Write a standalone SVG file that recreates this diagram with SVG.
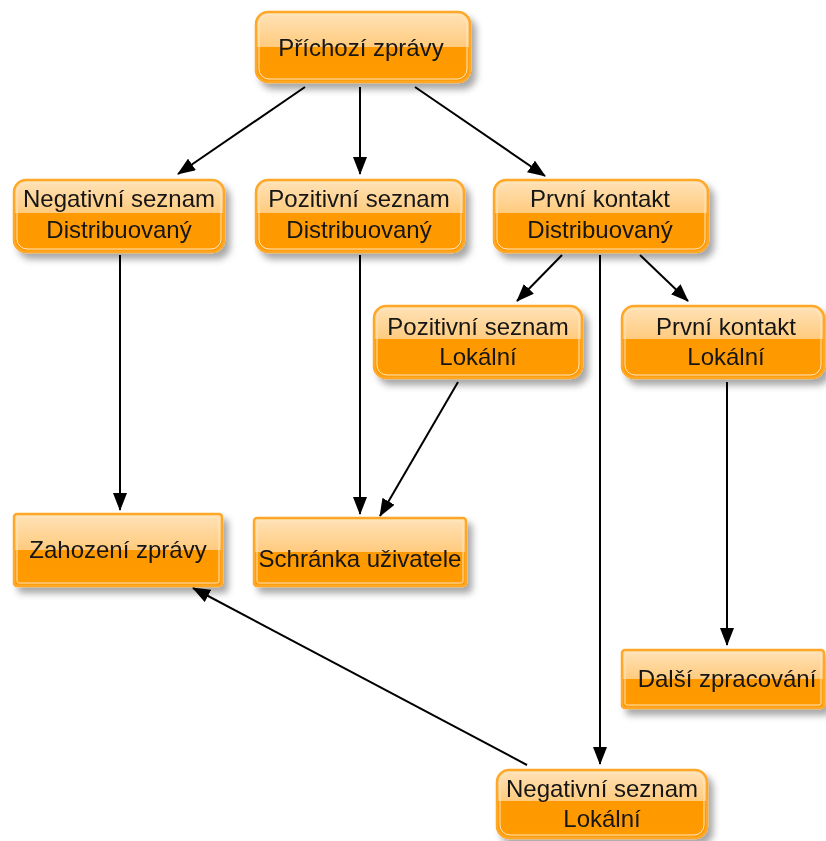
<svg xmlns="http://www.w3.org/2000/svg" width="826" height="841" viewBox="0 0 826 841">
<style>
.t{font-family:"Liberation Sans",Arial,sans-serif;font-size:24px;fill:#141414;text-anchor:middle}
.box{stroke:#ffa726;stroke-width:2.5}
.inner{fill:none;stroke:#ffe6bf;stroke-width:1}
.e{stroke:#000;stroke-width:2;fill:none;marker-end:url(#ah)}
</style>
<defs>
<linearGradient id="g" x1="0" y1="0" x2="0" y2="1">
<stop offset="0" stop-color="#ffe2b8"/>
<stop offset="0.46" stop-color="#ffcb7e"/>
<stop offset="0.46" stop-color="#ff9900"/>
<stop offset="1" stop-color="#ff9a05"/>
</linearGradient>
<linearGradient id="g1" x1="0" y1="0" x2="0" y2="1">
<stop offset="0" stop-color="#ffe2b8"/>
<stop offset="0.5" stop-color="#ffcb7e"/>
<stop offset="0.5" stop-color="#ff9900"/>
<stop offset="1" stop-color="#ff9a05"/>
</linearGradient>
<filter id="sh" x="-10%" y="-10%" width="130%" height="140%">
<feDropShadow dx="5" dy="6" stdDeviation="3.5" flood-color="#000" flood-opacity="0.35"/>
</filter>
<marker id="ah" markerWidth="18" markerHeight="14" refX="17" refY="7" orient="auto" markerUnits="userSpaceOnUse">
<path d="M0,0 L18,7 L0,14 Z" fill="#000"/>
</marker>
</defs>

<g id="connectors">
<line class="e" x1="305" y1="87" x2="178" y2="174"/>
<line class="e" x1="360" y1="87" x2="360" y2="174"/>
<line class="e" x1="415" y1="87" x2="545" y2="176"/>
<line class="e" x1="120" y1="255" x2="120" y2="510"/>
<line class="e" x1="360" y1="255" x2="360" y2="514"/>
<line class="e" x1="458" y1="382" x2="380" y2="516"/>
<line class="e" x1="562" y1="255" x2="517" y2="301"/>
<line class="e" x1="600" y1="255" x2="600" y2="764"/>
<line class="e" x1="640" y1="255" x2="688" y2="301"/>
<line class="e" x1="727" y1="382" x2="727" y2="645"/>
<line class="e" x1="527" y1="765" x2="193" y2="588"/>
</g>

<g id="n1" filter="url(#sh)">
<rect class="box" x="256" y="12" width="214" height="70" rx="12" fill="url(#g1)"/>
<rect class="inner" x="259" y="15" width="208" height="64" rx="10"/>
<text class="t" x="361" y="56">Příchozí zprávy</text>
</g>

<g id="n2" filter="url(#sh)">
<rect class="box" x="14" y="180" width="210" height="72" rx="12" fill="url(#g)"/>
<rect class="inner" x="17" y="183" width="204" height="66" rx="10"/>
<text class="t" x="119" y="207">Negativní seznam</text>
<text class="t" x="119" y="238">Distribuovaný</text>
</g>

<g id="n3" filter="url(#sh)">
<rect class="box" x="256" y="180" width="208" height="72" rx="12" fill="url(#g)"/>
<rect class="inner" x="259" y="183" width="202" height="66" rx="10"/>
<text class="t" x="359" y="207">Pozitivní seznam</text>
<text class="t" x="359" y="238">Distribuovaný</text>
</g>

<g id="n4" filter="url(#sh)">
<rect class="box" x="494" y="180" width="214" height="72" rx="12" fill="url(#g)"/>
<rect class="inner" x="497" y="183" width="208" height="66" rx="10"/>
<text class="t" x="600" y="207">První kontakt</text>
<text class="t" x="600" y="238">Distribuovaný</text>
</g>

<g id="n5" filter="url(#sh)">
<rect class="box" x="374" y="306" width="208" height="72" rx="12" fill="url(#g)"/>
<rect class="inner" x="377" y="309" width="202" height="66" rx="10"/>
<text class="t" x="478" y="335">Pozitivní seznam</text>
<text class="t" x="478" y="365">Lokální</text>
</g>

<g id="n6" filter="url(#sh)">
<rect class="box" x="622" y="306" width="202" height="72" rx="12" fill="url(#g)"/>
<rect class="inner" x="625" y="309" width="196" height="66" rx="10"/>
<text class="t" x="726" y="335">První kontakt</text>
<text class="t" x="726" y="365">Lokální</text>
</g>

<g id="n7" filter="url(#sh)">
<rect class="box" x="14" y="514" width="208" height="72" rx="3" fill="url(#g1)"/>
<rect class="inner" x="17" y="517" width="202" height="66" rx="2"/>
<text class="t" x="118" y="558">Zahození zprávy</text>
</g>

<g id="n8" filter="url(#sh)">
<rect class="box" x="254" y="518" width="212" height="68" rx="3" fill="url(#g1)"/>
<rect class="inner" x="257" y="521" width="206" height="62" rx="2"/>
<text class="t" x="360" y="567">Schránka uživatele</text>
</g>

<g id="n9" filter="url(#sh)">
<rect class="box" x="622" y="650" width="202" height="58" rx="3" fill="url(#g1)"/>
<rect class="inner" x="625" y="653" width="196" height="52" rx="2"/>
<text class="t" x="727" y="687">Další zpracování</text>
</g>

<g id="n10" filter="url(#sh)">
<rect class="box" x="497" y="770" width="210" height="68" rx="12" fill="url(#g)"/>
<rect class="inner" x="500" y="773" width="204" height="62" rx="10"/>
<text class="t" x="602" y="797">Negativní seznam</text>
<text class="t" x="602" y="827">Lokální</text>
</g>
</svg>
